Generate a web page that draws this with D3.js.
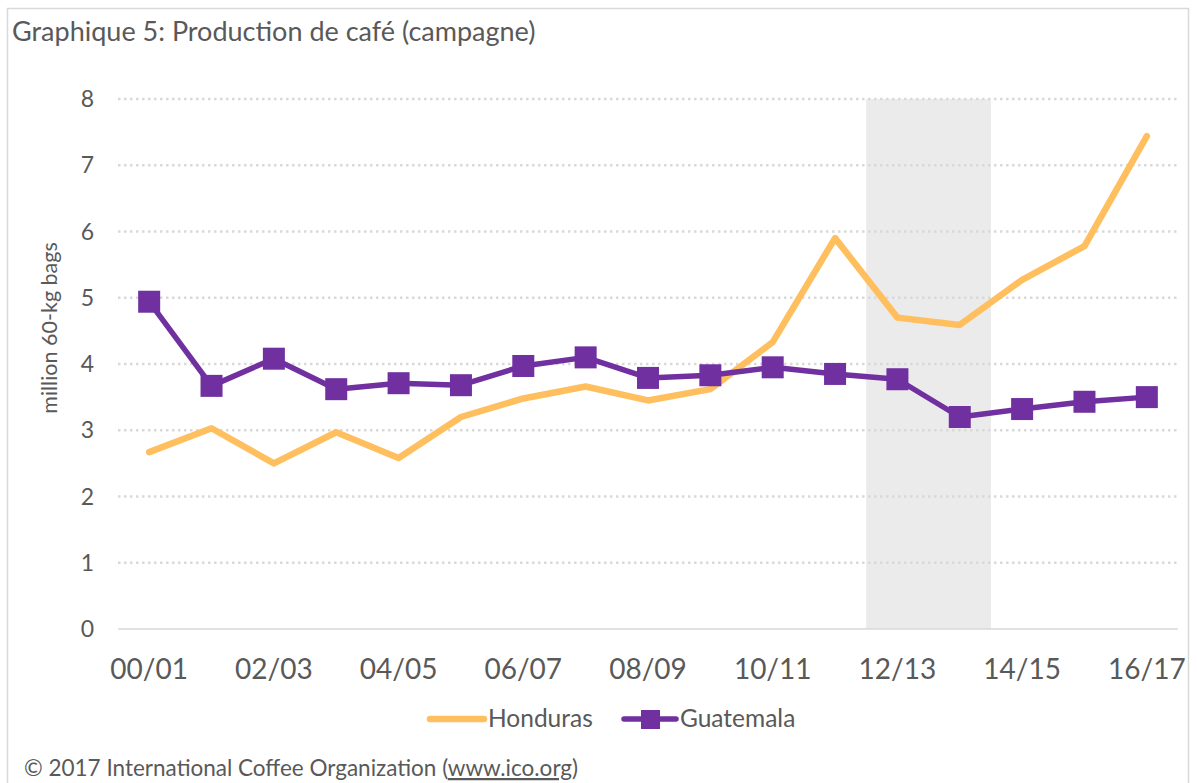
<!DOCTYPE html>
<html>
<head>
<meta charset="utf-8">
<script src="https://cdn.jsdelivr.net/npm/d3@7"></script>
<style>
  body { margin: 0; background: #fff; }
  svg text { font-family: Lato, "Open Sans", sans-serif; fill: #595959; }
</style>
</head>
<body>
<div id="chart"></div>
<script>
var seasons = ["00/01","01/02","02/03","03/04","04/05","05/06","06/07","07/08","08/09",
  "09/10","10/11","11/12","12/13","13/14","14/15","15/16","16/17"];
var tickLabels = ["00/01","02/03","04/05","06/07","08/09","10/11","12/13","14/15","16/17"];
var honduras = [2.67,3.03,2.5,2.97,2.58,3.2,3.48,3.66,3.45,3.62,4.33,5.9,4.7,4.59,5.27,5.78,7.44];
var guatemala = [4.94,3.67,4.08,3.62,3.71,3.68,3.97,4.1,3.79,3.83,3.95,3.85,3.77,3.2,3.32,3.43,3.5];
var shaded = ["12/13","13/14"];
var yTicks = [0,1,2,3,4,5,6,7,8];

var W = 1197, H = 783;
var svg = d3.select("#chart").append("svg")
  .attr("width", W)
  .attr("height", H);

// frame
svg.append("rect")
  .attr("x", 7.5).attr("y", 8.5)
  .attr("width", 1181).attr("height", 800)
  .attr("fill", "none")
  .attr("stroke", "#d9d9d9")
  .attr("stroke-width", 1.5);

svg.append("text")
  .text("Graphique 5: Production de café (campagne)")
  .attr("x", 12).attr("y", 41)
  .style("font-size", "27px");

var x = d3.scaleBand().domain(seasons).range([118, 1178]).padding(0);
var y = d3.scaleLinear().domain([0, 8]).range([629, 99]);
var cx = function(d){ return x(d) + x.bandwidth() / 2; };

// shaded band
svg.append("rect")
  .attr("x", x(shaded[0]))
  .attr("y", y(8))
  .attr("width", x(shaded[1]) + x.bandwidth() - x(shaded[0]))
  .attr("height", y(0) - y(8))
  .attr("fill", "#ebebeb");

// gridlines
svg.append("g").selectAll("line")
  .data(yTicks.filter(function(d){ return d > 0; }))
  .enter().append("line")
    .attr("x1", 118).attr("x2", 1178)
    .attr("y1", function(d){ return y(d); })
    .attr("y2", function(d){ return y(d); })
    .attr("stroke", "#d9d9d9")
    .attr("stroke-width", 2.5)
    .attr("stroke-dasharray", "2.5,3.5");

svg.append("line")
  .attr("x1", 118).attr("x2", 1178)
  .attr("y1", y(0)).attr("y2", y(0))
  .attr("stroke", "#d9d9d9")
  .attr("stroke-width", 1.5);

// y labels
svg.append("g").selectAll("text")
  .data(yTicks)
  .enter().append("text")
    .text(function(d){ return d; })
    .attr("x", 94)
    .attr("y", function(d){ return y(d) + 8; })
    .attr("text-anchor", "end")
    .style("font-size", "23px");

svg.append("text")
  .text("million 60-kg bags")
  .attr("transform", "translate(57,328) rotate(-90)")
  .attr("text-anchor", "middle")
  .style("font-size", "21.5px");

// x labels
svg.append("g").selectAll("text")
  .data(tickLabels)
  .enter().append("text")
    .text(function(d){ return d; })
    .attr("x", function(d){ return cx(d); })
    .attr("y", 679)
    .attr("text-anchor", "middle")
    .style("font-size", "28px");

var line = d3.line()
  .x(function(d, i){ return cx(seasons[i]); })
  .y(function(d){ return y(d); });

svg.append("path")
  .attr("d", line(honduras))
  .attr("fill", "none")
  .attr("stroke", "#ffbf5e")
  .attr("stroke-width", 6.5)
  .attr("stroke-linecap", "round")
  .attr("stroke-linejoin", "round");

svg.append("path")
  .attr("d", line(guatemala))
  .attr("fill", "none")
  .attr("stroke", "#7030a0")
  .attr("stroke-width", 5.5)
  .attr("stroke-linejoin", "round");

svg.append("g").selectAll("rect")
  .data(guatemala)
  .enter().append("rect")
    .attr("x", function(d, i){ return cx(seasons[i]) - 11; })
    .attr("y", function(d){ return y(d) - 11; })
    .attr("width", 22).attr("height", 22)
    .attr("fill", "#7030a0");

// legend
svg.append("line")
  .attr("x1", 430).attr("x2", 484)
  .attr("y1", 719).attr("y2", 719)
  .attr("stroke", "#ffbf5e")
  .attr("stroke-width", 6.5)
  .attr("stroke-linecap", "round");
svg.append("text").text("Honduras")
  .attr("x", 488).attr("y", 727)
  .style("font-size", "24.5px");

svg.append("line")
  .attr("x1", 624).attr("x2", 676)
  .attr("y1", 719).attr("y2", 719)
  .attr("stroke", "#7030a0")
  .attr("stroke-width", 5.5)
  .attr("stroke-linecap", "round");
svg.append("rect")
  .attr("x", 641).attr("y", 710)
  .attr("width", 19).attr("height", 19)
  .attr("fill", "#7030a0");
svg.append("text").text("Guatemala")
  .attr("x", 680).attr("y", 727)
  .style("font-size", "24.5px");

// footer
var foot = svg.append("text")
  .attr("x", 24).attr("y", 776)
  .style("font-size", "22.5px");
foot.append("tspan").text("© 2017 International Coffee Organization (");
foot.append("tspan").text("www.ico.org").style("text-decoration", "underline");
foot.append("tspan").text(")");
</script>
</body>
</html>
